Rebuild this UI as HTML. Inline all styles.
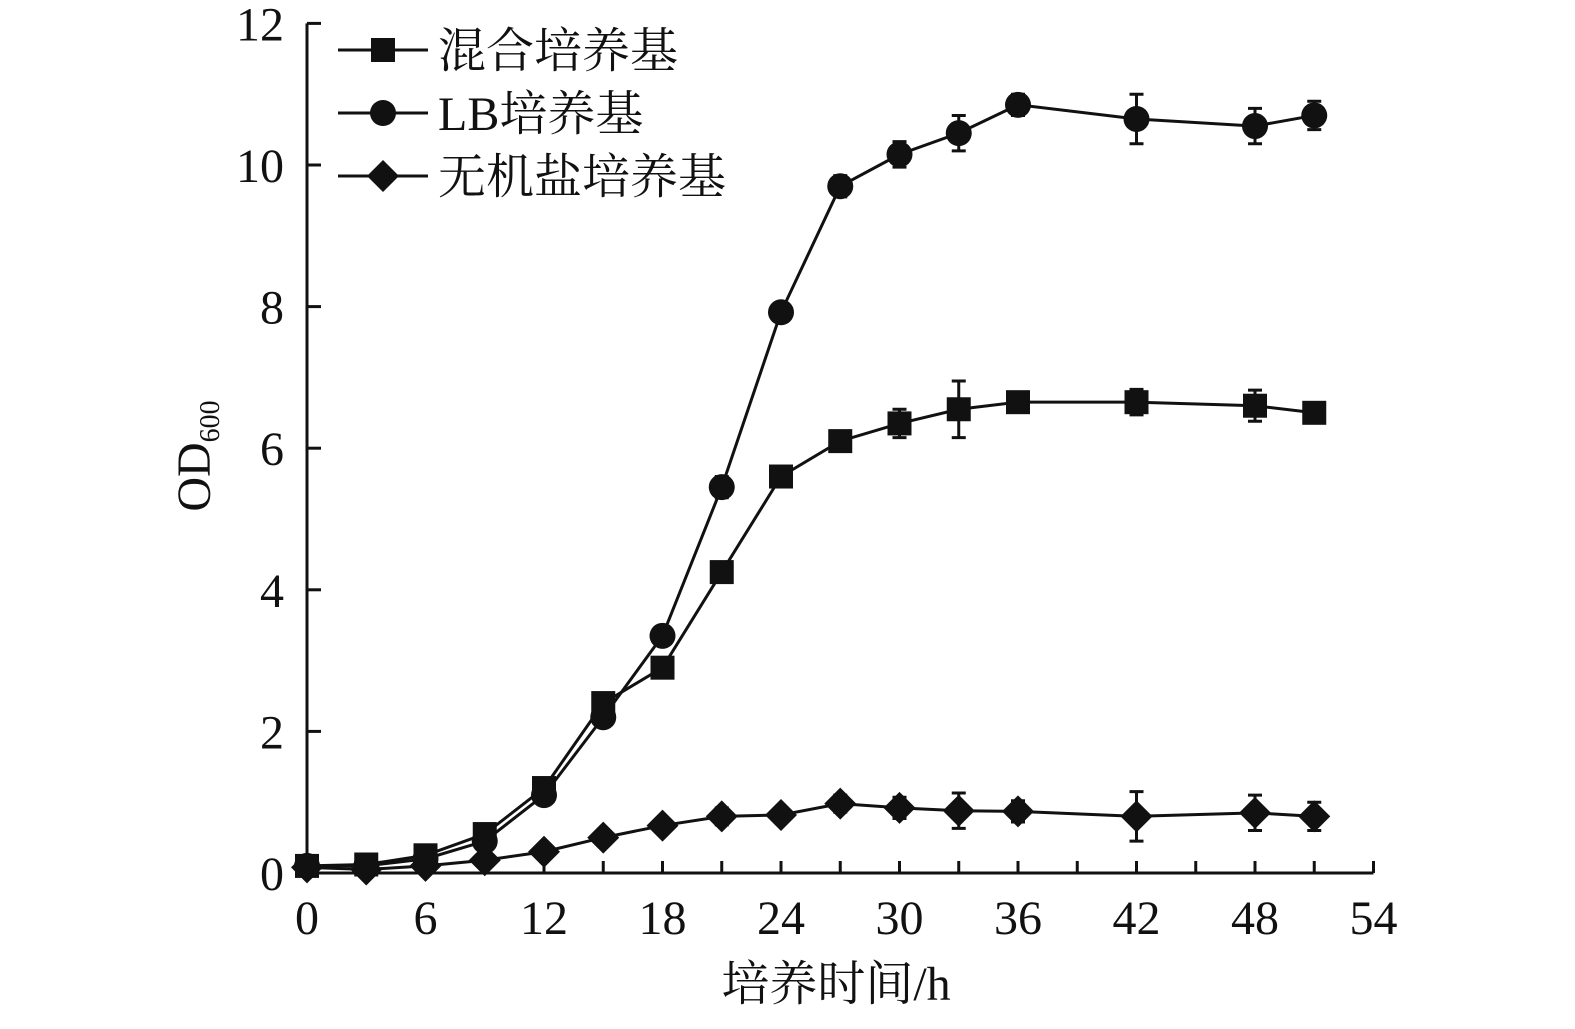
<!DOCTYPE html>
<html><head><meta charset="utf-8"><style>
body{margin:0;background:#fff}
text{font-family:"Liberation Serif","Noto Serif CJK SC","Noto Sans CJK SC",serif;fill:#111}
</style></head><body>
<svg id="chart" width="1575" height="1024" viewBox="0 0 1575 1024" xmlns="http://www.w3.org/2000/svg"></svg>
<script>
const hours=[0,3,6,9,12,15,18,21,24,27,30,33,36,42,48,51];
const mixed=[0.1,0.12,0.25,0.55,1.2,2.4,2.9,4.25,5.6,6.1,6.35,6.55,6.65,6.65,6.6,6.5];
const mixedErr=[0,0,0,0,0,0,0,0,0,0.12,0.2,0.4,0,0.18,0.22,0.1];
const lb=[0.1,0.1,0.2,0.45,1.1,2.2,3.35,5.45,7.92,9.7,10.15,10.45,10.85,10.65,10.55,10.7];
const lbErr=[0,0,0,0,0,0,0,0.15,0,0.15,0.18,0.25,0.15,0.35,0.25,0.2];
const mineral=[0.08,0.05,0.1,0.18,0.3,0.5,0.67,0.8,0.82,0.98,0.92,0.88,0.87,0.8,0.85,0.8];
const mineralErr=[0,0,0,0,0,0,0,0.12,0,0.12,0.15,0.25,0.15,0.35,0.25,0.2];
const xTicks=[0,6,12,18,24,30,36,42,48,54];
const yTicks=[0,2,4,6,8,10,12];
const svg=document.getElementById('chart');
const NS='http://www.w3.org/2000/svg';
const X=v=>307+v*19.75;
const Y=v=>873-v*70.8;
function mk(tag,attrs,parent){const e=document.createElementNS(NS,tag);for(const k in attrs)e.setAttribute(k,attrs[k]);(parent||svg).appendChild(e);return e;}
let a=mk('line',{x1:X(0),y1:Y(12),x2:X(0),y2:Y(0),stroke:'#111','stroke-width':3});

a=mk('line',{x1:X(0),y1:Y(0),x2:X(54),y2:Y(0),stroke:'#111','stroke-width':3});

for(let h=0;h<=54;h+=3){const t=mk('line',{x1:X(h),y1:Y(0),x2:X(h),y2:Y(0)-12,stroke:'#111','stroke-width':3});
}
for(let v=0;v<=12;v+=2){const t=mk('line',{x1:X(0),y1:Y(v),x2:X(0)+14,y2:Y(v),stroke:'#111','stroke-width':3});
}
xTicks.forEach(v=>{const t=mk('text',{x:X(v),y:934,'font-size':48,'text-anchor':'middle'});t.textContent=v;
});
yTicks.forEach(v=>{const t=mk('text',{x:284,y:Y(v)+17,'font-size':48,'text-anchor':'end'});t.textContent=v;
});
let xt=mk('text',{x:836,y:1000,'font-size':48,'text-anchor':'middle'});xt.textContent='培养时间/h';

let yt=mk('text',{x:0,y:0,'font-size':48,'text-anchor':'middle',transform:'translate(210,456) rotate(-90)'});
yt.innerHTML='OD<tspan font-size="28" dy="9">600</tspan>';

function marker(kind,cx,cy,g){
 if(kind==='square')return mk('rect',{x:cx-12,y:cy-12,width:24,height:24,fill:'#111'},g);
 if(kind==='circle')return mk('circle',{cx:cx,cy:cy,r:13,fill:'#111'},g);
 return mk('polygon',{points:`${cx},${cy-16} ${cx+16},${cy} ${cx},${cy+16} ${cx-16},${cy}`,fill:'#111'},g);
}
function series(name,vals,errs,kind){
 const g=mk('g',{});
 const l=mk('polyline',{points:hours.map((h,i)=>X(h)+','+Y(vals[i])).join(' '),fill:'none',stroke:'#111','stroke-width':3},g);
 
 hours.forEach((h,i)=>{if(errs[i]>0){const e=mk('path',{d:`M${X(h)},${Y(vals[i]-errs[i])}V${Y(vals[i]+errs[i])}M${X(h)-7},${Y(vals[i]+errs[i])}h14M${X(h)-7},${Y(vals[i]-errs[i])}h14`,stroke:'#111','stroke-width':3,fill:'none'},g);
 }});
 hours.forEach((h,i)=>{const m=marker(kind,X(h),Y(vals[i]),g);});
}
series('mineral-series',mineral,mineralErr,'diamond');
series('mixed-series',mixed,mixedErr,'square');
series('lb-series',lb,lbErr,'circle');
const leg=[['混合培养基','square',50],['LB培养基','circle',113],['无机盐培养基','diamond',176]];
leg.forEach(([t,k,y])=>{const g=mk('g',{});
 mk('line',{x1:338,y1:y,x2:428,y2:y,stroke:'#111','stroke-width':3},g);marker(k,383,y,g);
 const tx=mk('text',{x:438,y:y+17,'font-size':48},g);tx.textContent=t;});
</script>
</body></html>
